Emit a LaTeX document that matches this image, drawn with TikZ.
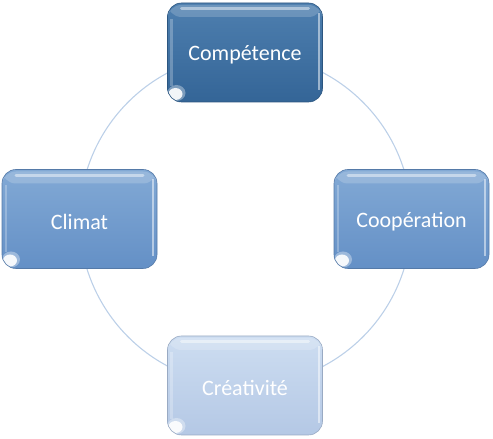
\documentclass[tikz,border=0pt]{standalone}
\usepackage{fontspec}
\setmainfont{Carlito}
\definecolor{ringc}{HTML}{BCD0E8}
\definecolor{darkT}{HTML}{4E7FAF}
\definecolor{darkB}{HTML}{346597}
\definecolor{midT}{HTML}{82A9D5}
\definecolor{midB}{HTML}{6490C6}
\definecolor{liteT}{HTML}{CDDDF1}
\definecolor{liteB}{HTML}{B4C8E5}
\newcommand{\lowtxt}[1]{\raisebox{-2.5pt}[\height][\depth]{#1}}
\tikzset{
  glass/.style 2 args={rectangle, rounded corners=14pt, minimum width=155pt, minimum height=99pt,
    inner sep=0pt, text=white, font=\fontsize{22}{26}\selectfont,
    top color=#1, bottom color=#2, draw=#2!85!black, line width=0.6pt,
    path picture={
      \fill[white, opacity=0.18] ([yshift=-2pt]path picture bounding box.north west) rectangle ([yshift=-14pt]path picture bounding box.north east);
      \draw[white, opacity=0.45, line width=3pt, line cap=round] ([xshift=14pt,yshift=-6pt]path picture bounding box.north west) -- ([xshift=-14pt,yshift=-6pt]path picture bounding box.north east);
      \draw[white, opacity=0.25, line width=2.5pt] ([xshift=4pt,yshift=-16pt]path picture bounding box.north west) -- ([xshift=4pt,yshift=16pt]path picture bounding box.south west);
      \draw[white, opacity=0.5, line width=2pt] ([xshift=-4pt,yshift=-10pt]path picture bounding box.north east) -- ([xshift=-4pt,yshift=12pt]path picture bounding box.south east);
      \fill[white, opacity=0.35] ([xshift=9pt,yshift=9pt]path picture bounding box.south west) ellipse (9pt and 8pt);
      \fill[white, opacity=0.9] ([xshift=8pt,yshift=8pt]path picture bounding box.south west) ellipse (7pt and 6pt);
    }},
}
\begin{document}
\begin{tikzpicture}[x=1pt,y=1pt]
\useasboundingbox (0,0) rectangle (493,439);
\coordinate (ctr) at (245.5,219.5);
\draw[ringc, line width=1.1pt] (ctr) circle (166);
\node[glass={darkT}{darkB}] (comp) at (245,386.5) {\lowtxt{Compétence}};
\node[glass={midT}{midB}] (coop) at (411.5,220) {\lowtxt{Coopération}};
\node[glass={midT}{midB}] (clim) at (79.5,220) {\lowtxt{Climat}};
\node[glass={liteT}{liteB}] (crea) at (245,53.5) {\lowtxt{Créativité}};
\end{tikzpicture}
\end{document}
